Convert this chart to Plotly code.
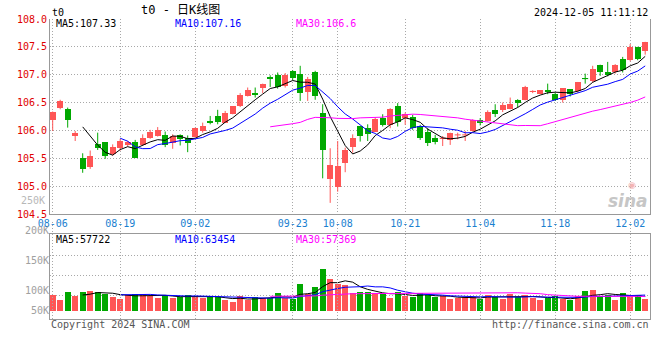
import plotly.graph_objects as go
import pandas as pd

# ---------------- data ----------------
dates = [
    "08-06", "08-07", "08-08", "08-09", "08-12", "08-13", "08-14", "08-15", "08-16", "08-19",
    "08-20", "08-21", "08-22", "08-23", "08-26", "08-27", "08-28", "08-29", "08-30", "09-02",
    "09-03", "09-04", "09-05", "09-06", "09-09", "09-10", "09-11", "09-12", "09-13", "09-18",
    "09-19", "09-20", "09-23", "09-24", "09-25", "09-26", "09-27", "09-30", "10-08", "10-09",
    "10-10", "10-11", "10-14", "10-15", "10-16", "10-17", "10-18", "10-21", "10-22", "10-23",
    "10-24", "10-25", "10-28", "10-29", "10-30", "10-31", "11-01", "11-04", "11-05", "11-06",
    "11-07", "11-08", "11-11", "11-12", "11-13", "11-14", "11-15", "11-18", "11-19", "11-20",
    "11-21", "11-22", "11-25", "11-26", "11-27", "11-28", "11-29", "12-02", "12-03", "12-04",
]
open_ = [
    106.19, 106.40, 106.38, 105.90, 105.50, 105.34, 105.75, 105.79, 105.58, 105.68,
    105.73, 105.79, 105.74, 105.87, 105.90, 105.92, 105.77, 105.91, 105.86, 105.89,
    105.99, 106.17, 106.26, 106.14, 106.29, 106.43, 106.62, 106.68, 106.76, 106.96,
    106.99, 106.79, 107.07, 107.01, 106.69, 107.05, 106.32, 105.12, 104.99, 105.41,
    105.70, 106.08, 106.04, 105.98, 106.23, 106.10, 106.43, 106.22, 106.25, 106.08,
    105.98, 105.87, 105.85, 105.82, 105.91, 105.91, 105.99, 106.18, 106.17, 106.36,
    106.36, 106.39, 106.55, 106.54, 106.69, 106.65, 106.72, 106.66, 106.55, 106.74,
    106.71, 106.94, 106.89, 107.18, 107.05, 107.05, 107.29, 107.26, 107.49, 107.42,
]
high = [
    106.34, 106.55, 106.41, 105.99, 105.59, 105.64, 105.96, 105.79, 105.75, 105.85,
    105.81, 105.83, 105.93, 106.01, 106.06, 105.98, 105.93, 105.93, 105.91, 106.05,
    106.14, 106.26, 106.37, 106.35, 106.43, 106.67, 106.77, 106.77, 106.84, 106.99,
    107.04, 107.03, 107.08, 107.16, 106.96, 107.07, 106.47, 105.68, 105.81, 105.69,
    105.93, 106.08, 106.11, 106.23, 106.29, 106.40, 106.49, 106.32, 106.28, 106.10,
    106.04, 105.92, 105.90, 105.96, 105.96, 105.99, 106.20, 106.22, 106.36, 106.47,
    106.50, 106.59, 106.56, 106.80, 106.72, 106.72, 106.84, 106.68, 106.76, 106.74,
    106.87, 107.02, 107.16, 107.18, 107.23, 107.19, 107.32, 107.55, 107.50, 107.59,
]
low = [
    105.99, 106.38, 106.05, 105.81, 105.24, 105.31, 105.65, 105.49, 105.55, 105.64,
    105.71, 105.51, 105.72, 105.85, 105.89, 105.70, 105.67, 105.73, 105.61, 105.87,
    105.96, 106.11, 106.11, 106.14, 106.29, 106.42, 106.61, 106.59, 106.67, 106.78,
    106.75, 106.77, 106.90, 106.53, 106.53, 106.55, 105.14, 104.70, 104.90, 105.25,
    105.60, 105.80, 105.81, 105.97, 106.07, 106.04, 106.07, 106.10, 106.01, 105.83,
    105.72, 105.75, 105.72, 105.74, 105.84, 105.81, 105.98, 106.09, 106.16, 106.24,
    106.33, 106.38, 106.41, 106.54, 106.67, 106.65, 106.65, 106.53, 106.50, 106.61,
    106.68, 106.84, 106.86, 106.98, 106.97, 107.02, 107.04, 107.24, 107.26, 107.36,
]
close = [
    106.33, 106.53, 106.19, 105.96, 105.31, 105.54, 105.68, 105.55, 105.70, 105.81,
    105.80, 105.51, 105.87, 105.98, 106.01, 105.74, 105.90, 105.84, 105.77, 106.04,
    106.08, 106.14, 106.16, 106.32, 106.43, 106.63, 106.73, 106.64, 106.83, 106.93,
    106.78, 106.99, 106.95, 106.68, 106.92, 106.62, 105.64, 105.38, 105.36, 105.64,
    105.87, 105.90, 105.93, 106.20, 106.10, 106.38, 106.16, 106.29, 106.04, 105.86,
    105.77, 105.80, 105.86, 105.96, 105.92, 105.92, 106.18, 106.13, 106.33, 106.30,
    106.46, 106.48, 106.49, 106.78, 106.70, 106.72, 106.69, 106.54, 106.76, 106.66,
    106.87, 106.93, 107.10, 107.04, 106.99, 107.18, 107.09, 107.50, 107.29, 107.59,
]
volume = [
    63600, 43300, 75800, 60900, 75800, 79900, 75800, 66300, 56800, 47400,
    63600, 67700, 67700, 60900, 52800, 63600, 52800, 54100, 63600, 54100,
    52800, 59600, 54100, 43300, 36500, 59600, 43300, 56800, 50100, 52800,
    73100, 50100, 47400, 108300, 66300, 97400, 169200, 128600, 106900, 104200,
    70400, 75800, 75800, 73100, 67700, 52800, 75800, 59600, 54100, 71700,
    62400, 55800, 58400, 46500, 51800, 55800, 55800, 49100, 65000, 55800,
    49100, 66400, 55800, 65000, 51800, 42500, 51800, 58400, 46500, 42830,
    59600, 79900, 83300, 59600, 63530, 43300, 70400, 63600, 63700, 47610,
]
tick_dates = ["08-06", "08-19", "09-02", "09-23", "10-08", "10-21", "11-04", "11-18", "12-02"]
price_ticks = [104.5, 105.0, 105.5, 106.0, 106.5, 107.0, 107.5, 108.0]
vol_tick_text = ["200K", "150K", "100K", "50K"]
vol_top_label = "250K"

# ---------------- helpers / style ----------------
W, H = 660, 360
def fx(p):
    return p / W
def fy(p):
    return 1 - p / H

RED = "#ff5555"
GREEN = "#00a800"
GRID = "#a8a8a8"
FRAME = "#999999"
MONO = "DejaVu Sans Mono, monospace"
DASH = "1px,2px"

n = len(dates)
xs = list(range(n))
is_up = [c >= o for o, c in zip(open_, close)]

s_close = pd.Series(close)
ma5 = s_close.rolling(5).mean()
ma10 = s_close.rolling(10).mean()
ma30 = s_close.rolling(30).mean()
s_vol = pd.Series(volume)
vma5 = s_vol.rolling(5).mean()
vma10 = s_vol.rolling(10).mean()
vma30 = s_vol.rolling(30).mean()

fig = go.Figure()

# wicks (+ doji bars)
for flag, col in ((True, RED), (False, GREEN)):
    wx, wy = [], []
    for i in xs:
        if is_up[i] != flag:
            continue
        wx += [i, i, None]
        wy += [low[i], high[i], None]
        if abs(close[i] - open_[i]) < 0.02:
            wx += [i - 0.4, i + 0.4, None]
            wy += [close[i], close[i], None]
    fig.add_trace(go.Scatter(x=wx, y=wy, mode="lines", line=dict(color=col, width=1),
                             hoverinfo="skip", showlegend=False, xaxis="x", yaxis="y"))

# bodies
for flag, col in ((True, RED), (False, GREEN)):
    bx = [i for i in xs if is_up[i] == flag]
    fig.add_trace(go.Bar(
        x=bx,
        y=[abs(close[i] - open_[i]) for i in bx],
        base=[min(close[i], open_[i]) for i in bx],
        width=0.8, marker=dict(color=col, line=dict(width=0)),
        showlegend=False, xaxis="x", yaxis="y"))

# price MAs
for s, col in ((ma5, "#000000"), (ma10, "#0000ff"), (ma30, "#ff00ff")):
    fig.add_trace(go.Scatter(x=xs, y=s, mode="lines", line=dict(color=col, width=1),
                             showlegend=False, xaxis="x", yaxis="y"))

# volume bars
fig.add_trace(go.Bar(x=xs, y=volume, width=0.8,
                     marker=dict(color=[RED if u else GREEN for u in is_up], line=dict(width=0)),
                     showlegend=False, xaxis="x2", yaxis="y2"))
for s, col in ((vma5, "#000000"), (vma10, "#0000ff"), (vma30, "#ff00ff")):
    fig.add_trace(go.Scatter(x=xs, y=s, mode="lines", line=dict(color=col, width=1),
                             showlegend=False, xaxis="x2", yaxis="y2"))
# carrier for the left-hand volume label axis
fig.add_trace(go.Scatter(x=[None], y=[None], mode="lines", showlegend=False,
                         hoverinfo="skip", xaxis="x2", yaxis="y3"))

# ---------------- axes ----------------
x_range = [-0.36, 79.64]
tickvals = [dates.index(d) for d in tick_dates]

# volume panel scale (pixel geometry of the panel)
VOL_TOP, VOL_BOT, VOL_BASE = 234.3, 319.3, 310.7
LOTS_PER_PX = 4060
vol_range = [-(VOL_BOT - VOL_BASE) * LOTS_PER_PX, (VOL_BASE - VOL_TOP) * LOTS_PER_PX]
vol_grid = [(VOL_BASE - p) * LOTS_PER_PX for p in (255, 275, 295)]
# left-side volume labels as drawn in the original (30 px per 50K, 100K at y=290)
LAB_TOP = 222
lab_range = [100000 - (VOL_BOT - 290) / 60 * 100000, 100000 + (290 - LAB_TOP) / 60 * 100000]
lab_vals = [200000, 150000, 100000, 100000 - 20 / 60 * 100000]

common_x = dict(range=x_range, tickvals=tickvals, showgrid=True, gridcolor=GRID,
                griddash=DASH, gridwidth=1, zeroline=False, showline=True,
                linecolor=FRAME, linewidth=1, ticks="", fixedrange=True,
                automargin=False)

fig.update_layout(
    width=W, height=H, autosize=False,
    margin=dict(l=0, r=0, t=0, b=0, pad=0),
    paper_bgcolor="white", plot_bgcolor="rgba(0,0,0,0)",
    barmode="overlay", bargap=0,
    xaxis=dict(domain=[fx(50), fx(650)], anchor="y", ticktext=tick_dates,
               tickfont=dict(family=MONO, size=10, color="#1a7fd0"),
               mirror=False, **common_x),
    yaxis=dict(domain=[fy(214), fy(19)], range=[104.5, 108.0], anchor="x",
               tickvals=price_ticks, ticktext=["%.1f" % v for v in price_ticks],
               tickfont=dict(family=MONO, size=10, color="#e00000"),
               showgrid=True, gridcolor=GRID, griddash=DASH, gridwidth=1,
               zeroline=False, showline=True, mirror=True, linecolor=FRAME,
               linewidth=1, ticks="", fixedrange=True, automargin=False),
    xaxis2=dict(domain=[fx(50), fx(650)], anchor="y2", showticklabels=False,
                mirror=True, **common_x),
    yaxis2=dict(domain=[fy(VOL_BOT), fy(VOL_TOP)], range=vol_range, anchor="x2",
                tickvals=vol_grid, showticklabels=False, showgrid=True,
                gridcolor=GRID, griddash=DASH, gridwidth=1, zeroline=False,
                showline=True, mirror=True, linecolor=FRAME, linewidth=1,
                ticks="", fixedrange=True, automargin=False),
    yaxis3=dict(domain=[fy(VOL_BOT), fy(LAB_TOP)], range=lab_range, anchor="x2",
                tickvals=lab_vals, ticktext=vol_tick_text,
                tickfont=dict(family=MONO, size=10, color="#a0a0a0"),
                showgrid=False, zeroline=False, showline=False, ticks="",
                fixedrange=True, automargin=False),
)

# ---------------- texts ----------------
def note(text, x, y, color="#000000", size=10, anchor="left", family=MONO, **kw):
    fig.add_annotation(text=text, x=fx(x), y=fy(y), xref="paper", yref="paper",
                       xanchor=anchor, yanchor="middle", showarrow=False,
                       font=dict(family=family, size=size, color=color, **kw))

note("t0", 50, 12.5)
note("t0 - 日K线图", 139, 10, size=12, family="DejaVu Sans Mono, Noto Sans CJK SC")
note("2024-12-05 11:11:12", 650, 12.5, anchor="right")
note("MA5:107.33", 54, 23.5)
note("MA10:107.16", 173, 23.5, color="#0000ff")
note("MA30:106.6", 294, 23.5, color="#ff00ff")
note("MA5:57722", 54, 239)
note("MA10:63454", 173, 239, color="#0000ff")
note("MA30:57369", 294, 239, color="#ff00ff")
note(vol_top_label, 47, 200, color="#b8b8b8", anchor="right")
note("Copyright 2024 SINA.COM", 49, 324, color="#555555")
note("http://finance.sina.com.cn", 651, 324, color="#555555", anchor="right")
note("sina", 650, 201, color="#c6c6c6", size=17, anchor="right",
     family="DejaVu Sans, sans-serif", style="italic", weight="bold")
note("◉", 632, 185, color="#f3b4b4", size=9, anchor="center",
     family="DejaVu Sans, sans-serif")

fig.write_html("out.html", config={"displayModeBar": False, "staticPlot": True},
               post_script="document.body.style.margin='0px';")
